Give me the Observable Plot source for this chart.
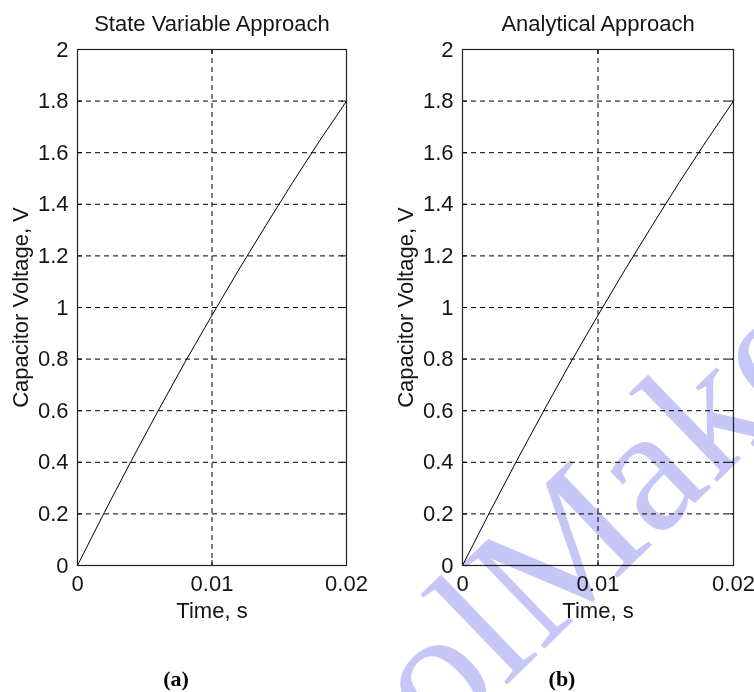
<!DOCTYPE html>
<html>
<head>
<meta charset="utf-8">
<script src="https://cdn.jsdelivr.net/npm/d3@7"></script>
<script src="https://cdn.jsdelivr.net/npm/@observablehq/plot@0.6"></script>
<style>
html, body { margin: 0; padding: 0; background: #fff; }
#wrap { position: relative; width: 754px; height: 692px; overflow: hidden; background: #fff; }
#left, #right { position: absolute; top: 0; }
#left { left: 0; }
#right { left: 377px; }
#wm { position: absolute; left: 0; top: 0; pointer-events: none; mix-blend-mode: multiply; }
</style>
</head>
<body>
<div id="wrap">
  <div id="left"></div>
  <div id="right"></div>
  <svg id="wm" width="754" height="692"></svg>
</div>
<script>
// Time samples (s)
const time = [0, 0.002, 0.004, 0.006, 0.008, 0.010, 0.012, 0.014, 0.016, 0.018, 0.020];
// Capacitor voltage (V)
const voltageStateVariable = [0, 0.206, 0.406, 0.600, 0.789, 0.970, 1.147, 1.318, 1.485, 1.646, 1.800];
const voltageAnalytical    = [0, 0.206, 0.406, 0.600, 0.789, 0.970, 1.147, 1.318, 1.485, 1.646, 1.800];
// Axis ticks
const xTicks = [0, 0.01, 0.02];
const yTicks = [0, 0.2, 0.4, 0.6, 0.8, 1, 1.2, 1.4, 1.6, 1.8, 2];
// Texts
const titles = ["State Variable Approach", "Analytical Approach"];
const panelTags = ["(a)", "(b)"];
const xLabel = "Time, s";
const yLabel = "Capacitor Voltage, V";
const watermark = "oolMaker";

const W = 377, H = 692, MT = 49, MB = 127;
const sans = "'Liberation Sans', Arial, Helvetica, sans-serif";

function panel(title, tag, values, marginLeft, marginRight) {
  const data = time.map((t, i) => ({t, v: values[i]}));
  const pw = W - marginLeft - marginRight;
  const ph = H - MT - MB;
  const xIn = xTicks.slice(1, -1);
  const yIn = yTicks.slice(1, -1);
  return Plot.plot({
    width: W, height: H,
    marginLeft, marginRight, marginTop: MT, marginBottom: MB,
    style: {fontFamily: sans, fontSize: "22px", color: "#151515", background: "transparent", overflow: "visible"},
    x: {domain: [0, 0.02], ticks: xTicks, label: null},
    y: {domain: [0, 2], ticks: yTicks, label: null},
    marks: [
      Plot.gridX(xIn, {stroke: "#000", strokeOpacity: 1, strokeDasharray: "5,4"}),
      Plot.gridY(yIn, {stroke: "#000", strokeOpacity: 1, strokeDasharray: "5,4"}),
      Plot.line(data, {x: "t", y: "v", stroke: "#000", strokeWidth: 1}),
      // inward ticks on all four sides
      Plot.tickX(xTicks, {x: d => d, stroke: "#000", insetTop: ph - 5}),
      Plot.tickX(xTicks, {x: d => d, stroke: "#000", insetBottom: ph - 5}),
      Plot.tickY(yTicks, {y: d => d, stroke: "#000", insetRight: pw - 5}),
      Plot.tickY(yTicks, {y: d => d, stroke: "#000", insetLeft: pw - 5}),
      Plot.frame({stroke: "#222", strokeWidth: 1.2}),
      Plot.axisX(xTicks, {anchor: "bottom", tickSize: 0, tickPadding: 10, label: null, tickFormat: d => String(d)}),
      Plot.axisY(yTicks, {anchor: "left", tickSize: 0, tickPadding: 9, label: null, tickFormat: d => String(d)}),
      Plot.text([title], {frameAnchor: "top", lineAnchor: "bottom", textAnchor: "middle", dy: -19, fill: "#151515"}),
      Plot.text([xLabel], {frameAnchor: "bottom", lineAnchor: "top", textAnchor: "middle", dy: 37, fill: "#151515"}),
      Plot.text([yLabel], {frameAnchor: "left", rotate: -90, lineAnchor: "middle", textAnchor: "middle", dx: -57, fill: "#151515"}),
      Plot.text([tag], {frameAnchor: "bottom", lineAnchor: "bottom", textAnchor: "middle", dy: 120, dx: -36, fill: "#000",
        fontFamily: "'Liberation Serif', 'Times New Roman', serif", fontWeight: "bold", fontSize: 22})
    ]
  });
}

document.getElementById("left").appendChild(panel(titles[0], panelTags[0], voltageStateVariable, 77, 31));
document.getElementById("right").appendChild(panel(titles[1], panelTags[1], voltageAnalytical, 85, 21));

// faint watermark present in the source image
const wm = d3.select("#wm");
wm.append("text")
  .attr("transform", "translate(375,812) rotate(-44)")
  .attr("font-family", "'Liberation Serif', 'Times New Roman', serif")
  .attr("font-size", 180)
  .attr("fill", "#c6c6f7")
  .text(watermark);
</script>
</body>
</html>
